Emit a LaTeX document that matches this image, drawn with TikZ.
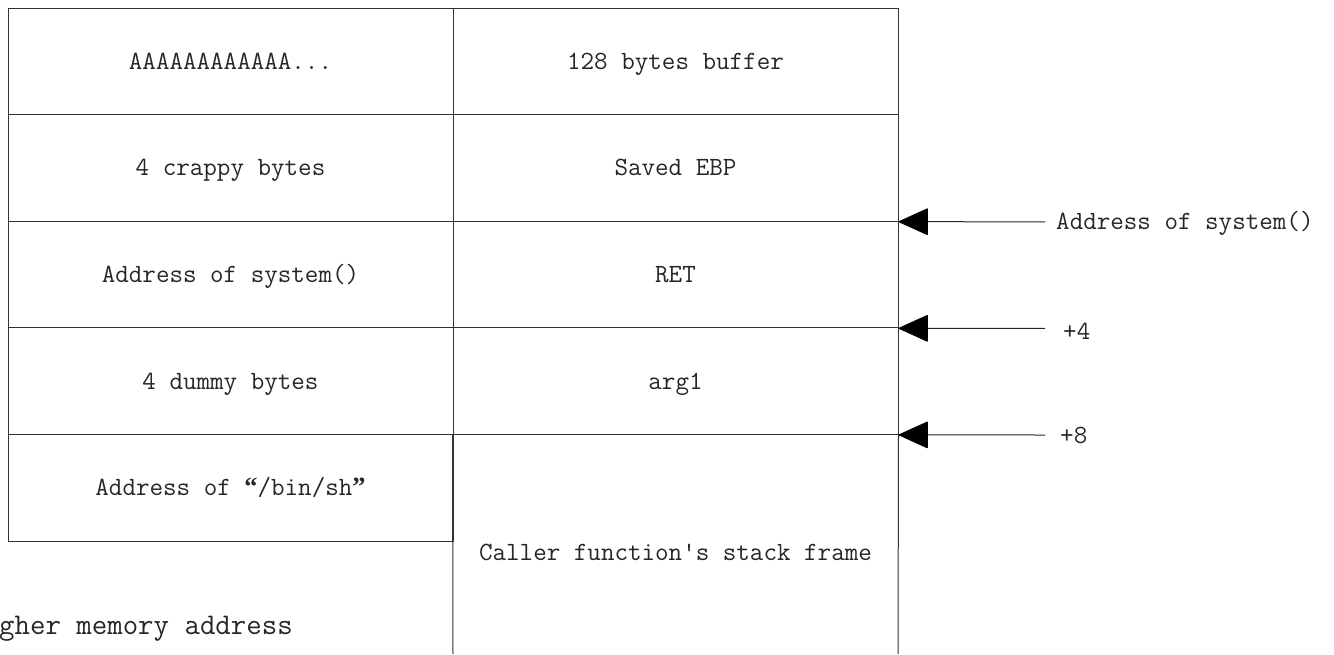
\documentclass[tikz,border=0pt]{standalone}
\usepackage{fontspec}
\newfontfamily\qfont{Liberation Serif}
\usetikzlibrary{arrows.meta}
\newcommand{\myopenq}{{\qfont\bfseries “}}
\newcommand{\mycloseq}{{\qfont\bfseries ”}}
\begin{document}
\begin{tikzpicture}[x=1pt,y=-1pt,
  cell/.style={draw=black!80, line width=1pt, minimum width=445pt, minimum height=106.6pt, inner sep=0pt, font=\ttfamily\fontsize{26.3}{26.3}\selectfont, text=black!85, text height=17pt, text depth=1pt},
  lbl/.style={inner sep=0pt, anchor=west, font=\ttfamily\fontsize{26.3}{26.3}\selectfont, text=black!85, text height=17pt, text depth=1pt},
  arr/.style={line width=1pt, draw=black!85, -{Triangle[length=30pt,width=27pt,round,fill=black,color=black]}},
  frame/.style={line width=1pt, draw=black!80}]
\useasboundingbox (0,0) rectangle (1334,654);
% left column
\node[cell] (L1) at (230.5,61.3) {AAAAAAAAAAAA...};
\node[cell] (L2) at (230.5,167.9) {4 crappy bytes};
\node[cell] (L3) at (230.5,274.5) {Address of system()};
\node[cell] (L4) at (230.5,381.1) {4 dummy bytes};
\node[cell] (L5) at (230.5,487.7) {Address of \myopenq/bin/sh\mycloseq};
% right column
\node[cell] (R1) at (675.5,61.3) {128 bytes buffer};
\node[cell] (R2) at (675.5,167.9) {Saved EBP};
\node[cell] (R3) at (675.5,274.5) {RET};
\node[cell] (R4) at (675.5,381.1) {arg1};
\coordinate (Rbl) at (453,654);
\coordinate (Rbr) at (898,654);
\draw[frame] (R4.south west) -- (Rbl);
\draw[frame] (R4.south east) -- (Rbr);
\node[lbl, anchor=center] (R5) at (675.5,552) {Caller function's stack frame};
% pointers
\coordinate (a1) at (1045,221.8);
\coordinate (a2) at (1045,328.4);
\coordinate (a3) at (1045,435);
\draw[arr] (a1) -- (R2.south east);
\draw[arr] (a2) -- (R3.south east);
\draw[arr] (a3) -- (R4.south east);
\node[lbl] (t1) at (1056,221.8) {Address of system()};
\node[lbl] (t2) at (1063,331) {+4};
\node[lbl] (t3) at (1060,435) {+8};
% bottom note
\node[lbl, font=\ttfamily\fontsize{30}{30}\selectfont] (hm) at (-1,626) {gher memory address};
\end{tikzpicture}
\end{document}
